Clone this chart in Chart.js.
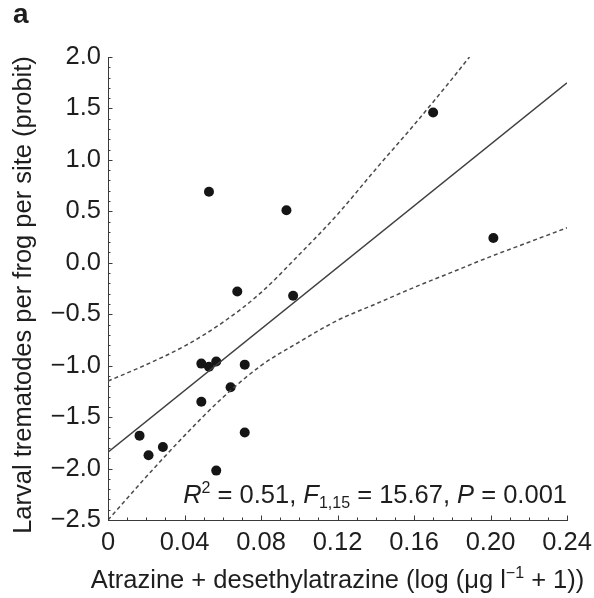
<!DOCTYPE html>
<html>
<head>
<meta charset="utf-8">
<script src="https://cdn.jsdelivr.net/npm/chart.js@4.4.1/dist/chart.umd.min.js"></script>
<style>
  html, body { margin: 0; padding: 0; background: #fff; }
  canvas { display: block; }
</style>
</head>
<body>
<canvas id="chart" width="594" height="598"></canvas>
<script>
// Sites: atrazine + desethylatrazine vs larval trematodes (probit)
const siteX = [0.0165, 0.0212, 0.0287, 0.0488, 0.0528, 0.0566, 0.0715, 0.0641, 0.0488,
               0.0715, 0.0566, 0.0676, 0.0968, 0.0528, 0.0933, 0.170, 0.2015];
const siteY = [-1.68, -1.87, -1.79, -0.98, -1.01, -0.96, -0.99, -1.21, -1.35,
               -1.65, -2.02, -0.28, -0.32, 0.69, 0.51, 1.46, 0.24];

// Least-squares fit
const fitX = [0, 0.24];
const fitY = [-1.84, 1.75];

// 95% confidence band
const upperX = [0, 0.02, 0.04, 0.06, 0.08, 0.10, 0.12, 0.14, 0.16, 0.18, 0.189];
const upperY = [-1.15, -0.99, -0.81, -0.58, -0.29, 0.08, 0.47, 0.91, 1.34, 1.79, 2.0];
const lowerX = [0, 0.02, 0.04, 0.06, 0.08, 0.10, 0.12, 0.14, 0.16, 0.18, 0.20, 0.22, 0.24];
const lowerY = [-2.5, -2.08, -1.68, -1.31, -1.00, -0.77, -0.56, -0.40, -0.24, -0.09, 0.06, 0.20, 0.34];

// Axis tick labels (major ticks)
const xTickLabels = ['0', '0.04', '0.08', '0.12', '0.16', '0.20', '0.24'];
const yTickLabels = ['2.0', '1.5', '1.0', '0.5', '0.0', '\u22120.5', '\u22121.0', '\u22121.5', '\u22122.0', '\u22122.5'];

// Text
const panelLetter = 'a';
const yTitle = 'Larval trematodes per frog per site (probit)';
const xTitleParts = ['Atrazine + desethylatrazine (log (\u03bcg l', '\u22121', ' + 1))'];
const statParts = ['R', '2', ' = 0.51, ', 'F', '1,15', ' = 15.67, ', 'P', ' = 0.001'];

const FAMILY = '"Liberation Sans", Arial, Helvetica, sans-serif';
const FS = 25.5;
const INK = '#1e1e1e';
const AXIS = '#3a3a3a';

const toXY = (xs, ys) => xs.map((x, i) => ({ x: x, y: ys[i] }));

function drawRuns(ctx, runs, x, y, align) {
  let w = 0;
  runs.forEach(r => { ctx.font = r.font; w += ctx.measureText(r.text).width; });
  let cx = align === 'right' ? x - w : (align === 'center' ? x - w / 2 : x);
  runs.forEach(r => {
    ctx.font = r.font;
    ctx.fillText(r.text, cx, y + (r.dy || 0));
    cx += ctx.measureText(r.text).width;
  });
}

const decorations = {
  id: 'decorations',
  afterDraw(chart) {
    const ctx = chart.ctx;
    const xs = chart.scales.x, ys = chart.scales.y;
    const area = chart.chartArea;
    ctx.save();

    // inward tick marks, major and minor
    ctx.strokeStyle = AXIS;
    ctx.lineWidth = 1;
    ctx.beginPath();
    ys.ticks.forEach(t => {
      const i = Math.round(t.value * 10);
      const len = (i % 5 === 0) ? 4.5 : 2.5;
      const py = Math.round(ys.getPixelForValue(t.value)) + 0.5;
      ctx.moveTo(area.left, py);
      ctx.lineTo(area.left + len, py);
    });
    xs.ticks.forEach(t => {
      const i = Math.round(t.value * 100);
      const len = (i % 4 === 0) ? 4.5 : 2.5;
      const px = Math.round(xs.getPixelForValue(t.value)) + 0.5;
      ctx.moveTo(px, area.bottom);
      ctx.lineTo(px, area.bottom - len);
    });
    ctx.stroke();

    ctx.fillStyle = INK;
    ctx.textAlign = 'left';
    ctx.textBaseline = 'alphabetic';

    // panel letter
    ctx.font = 'bold 28px ' + FAMILY;
    ctx.fillText(panelLetter, 13, 23);

    // y-axis title
    ctx.save();
    ctx.translate(24, 295);
    ctx.rotate(-Math.PI / 2);
    ctx.textAlign = 'center';
    ctx.textBaseline = 'middle';
    ctx.font = FS + 'px ' + FAMILY;
    ctx.fillText(yTitle, 0, 0);
    ctx.restore();

    // x-axis title with superscript
    const base = FS + 'px ' + FAMILY;
    const small = '16px ' + FAMILY;
    drawRuns(ctx, [
      { text: xTitleParts[0], font: base },
      { text: xTitleParts[1], font: small, dy: -10 },
      { text: xTitleParts[2], font: base }
    ], (area.left + area.right) / 2, 588, 'center');

    // regression statistics
    const ital = 'italic ' + FS + 'px ' + FAMILY;
    drawRuns(ctx, [
      { text: statParts[0], font: ital },
      { text: statParts[1], font: small, dy: -10 },
      { text: statParts[2], font: base },
      { text: statParts[3], font: ital },
      { text: statParts[4], font: small, dy: 5 },
      { text: statParts[5], font: base },
      { text: statParts[6], font: ital },
      { text: statParts[7], font: base }
    ], xs.getPixelForValue(0.24), ys.getPixelForValue(-2.5) - 17, 'right');

    ctx.restore();
  }
};

const bandStyle = {
  type: 'line',
  borderColor: '#4a4a4a',
  borderWidth: 1.5,
  borderDash: [4, 3],
  pointRadius: 0,
  fill: false,
  cubicInterpolationMode: 'monotone'
};

new Chart(document.getElementById('chart'), {
  type: 'scatter',
  data: {
    datasets: [
      { ...bandStyle, label: 'upper', data: toXY(upperX, upperY) },
      { ...bandStyle, label: 'lower', data: toXY(lowerX, lowerY) },
      {
        type: 'line', label: 'fit', data: toXY(fitX, fitY),
        borderColor: '#404040', borderWidth: 1.5, pointRadius: 0, fill: false
      },
      {
        type: 'scatter', label: 'sites', data: toXY(siteX, siteY),
        pointRadius: 5, pointHoverRadius: 5,
        backgroundColor: '#151515', borderColor: '#151515', borderWidth: 0
      }
    ]
  },
  options: {
    responsive: false,
    animation: false,
    devicePixelRatio: 1,
    layout: { padding: { left: 10, top: 57, right: 27, bottom: 0 } },
    plugins: { legend: { display: false }, tooltip: { enabled: false }, title: { display: false } },
    scales: {
      x: {
        type: 'linear', min: 0, max: 0.24,
        grid: { display: false, drawTicks: false },
        border: { display: true, color: AXIS, width: 1 },
        ticks: {
          stepSize: 0.01, autoSkip: false, maxRotation: 0, padding: 8,
          color: INK, font: { family: FAMILY, size: FS },
          callback: v => { const i = Math.round(v * 100); return i % 4 === 0 ? xTickLabels[i / 4] : ''; }
        },
        afterFit: s => { s.height = 78; s.paddingLeft = 0; s.paddingRight = 0; }
      },
      y: {
        type: 'linear', min: -2.5, max: 2.0,
        grid: { display: false, drawTicks: false },
        border: { display: true, color: AXIS, width: 1 },
        ticks: {
          stepSize: 0.1, autoSkip: false, padding: 7,
          color: INK, font: { family: FAMILY, size: FS },
          callback: v => { const i = Math.round(v * 10); return i % 5 === 0 ? yTickLabels[(20 - i) / 5] : ''; }
        },
        afterFit: s => { s.width = 98; s.paddingTop = 0; s.paddingBottom = 0; }
      }
    }
  },
  plugins: [decorations]
});
</script>
</body>
</html>
